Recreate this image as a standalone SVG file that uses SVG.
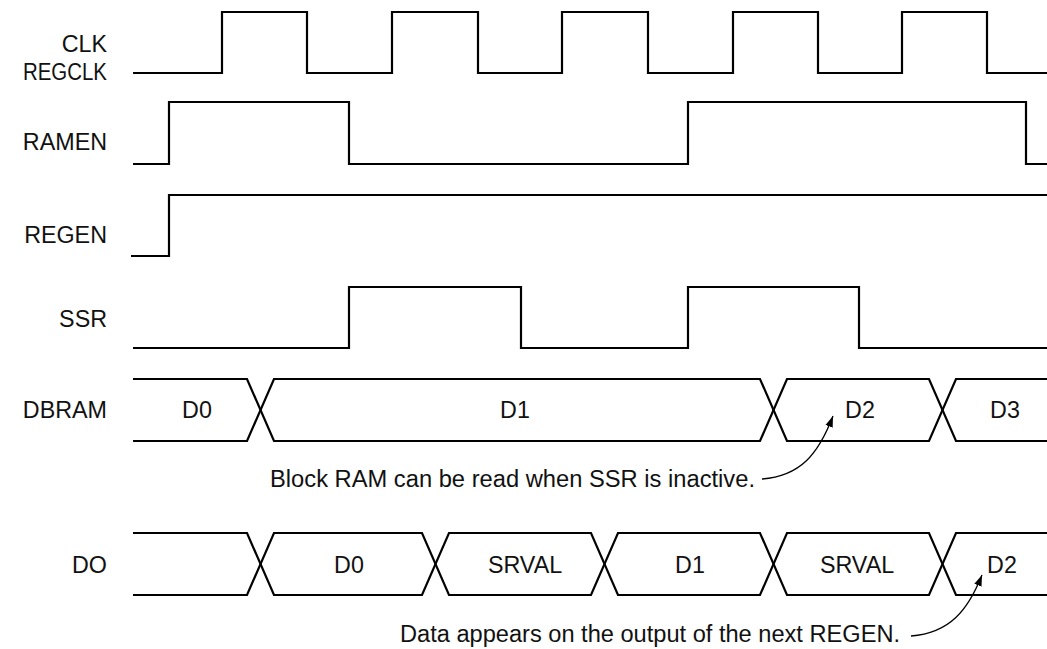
<svg xmlns="http://www.w3.org/2000/svg" width="1047" height="649" viewBox="0 0 1047 649">
<style>
.sig{fill:none;stroke:#000;stroke-width:2.2;stroke-linejoin:miter}
.lbl{font-family:"Liberation Sans",Arial,sans-serif;font-size:23.3px;fill:#111;text-anchor:end}
.val{font-family:"Liberation Sans",Arial,sans-serif;font-size:23.3px;fill:#111;text-anchor:middle}
.note{font-family:"Liberation Sans",Arial,sans-serif;font-size:23.3px;fill:#111}
.arr{fill:none;stroke:#000;stroke-width:1.3}
</style>
<defs>
<marker id="ah" viewBox="0 0 10 10" refX="10" refY="5" markerWidth="11" markerHeight="11" markerUnits="userSpaceOnUse" orient="auto">
<path d="M0,1.5 L10,5 L0,8.5 Z" fill="#000"/>
</marker>
</defs>
<rect width="1047" height="649" fill="#fff"/>
<g id="labels">
<text class="lbl" x="107" y="52">CLK</text>
<text class="lbl" x="107" y="80" textLength="84" lengthAdjust="spacingAndGlyphs">REGCLK</text>
<text class="lbl" x="107" y="150">RAMEN</text>
<text class="lbl" x="107" y="243">REGEN</text>
<text class="lbl" x="107" y="327">SSR</text>
<text class="lbl" x="107" y="418">DBRAM</text>
<text class="lbl" x="107" y="573">DO</text>
</g>
<g id="clk">
<path class="sig" d="M133,73 H222 V12 H307 V73 H392 V12 H478 V73 H562 V12 H648 V73 H733 V12 H818 V73 H902 V12 H987 V73 H1047"/>
</g>
<g id="ramen">
<path class="sig" d="M133,164 H169 V102 H349 V164 H688 V102 H1026 V164 H1047"/>
</g>
<g id="regen">
<path class="sig" d="M131,256 H169 V195 H1047"/>
</g>
<g id="ssr">
<path class="sig" d="M133,348 H349 V287 H521 V348 H688 V287 H859 V348 H1047"/>
</g>
<g id="dbram">
<path class="sig" d="M133,379 H247 L274,441 H760 L787,379 H929 L956,441 H1047"/>
<path class="sig" d="M133,441 H247 L274,379 H760 L787,441 H929 L956,379 H1047"/>
<text class="val" x="197" y="418">D0</text>
<text class="val" x="515" y="418">D1</text>
<text class="val" x="860" y="418">D2</text>
<text class="val" x="1005" y="418">D3</text>
</g>
<g id="do">
<path class="sig" d="M133,533 H247 L274,595 H422 L449,533 H591 L618,595 H760 L787,533 H929 L956,595 H1047"/>
<path class="sig" d="M133,595 H247 L274,533 H422 L449,595 H591 L618,533 H760 L787,595 H929 L956,533 H1047"/>
<text class="val" x="349" y="573">D0</text>
<text class="val" x="525" y="573">SRVAL</text>
<text class="val" x="690" y="573">D1</text>
<text class="val" x="857" y="573">SRVAL</text>
<text class="val" x="1002" y="573">D2</text>
</g>
<g id="note1">
<text class="note" x="270" y="487" textLength="485" lengthAdjust="spacingAndGlyphs">Block RAM can be read when SSR is inactive.</text>
</g>
<g id="note2">
<text class="note" x="400" y="642" textLength="500" lengthAdjust="spacingAndGlyphs">Data appears on the output of the next REGEN.</text>
</g>
<g id="connectors">
<path class="arr" marker-end="url(#ah)" d="M762,479 C800,476 818,455 833,416"/>
<path class="arr" marker-end="url(#ah)" d="M911,636 C950,633 968,610 982,575"/>
</g>
</svg>
